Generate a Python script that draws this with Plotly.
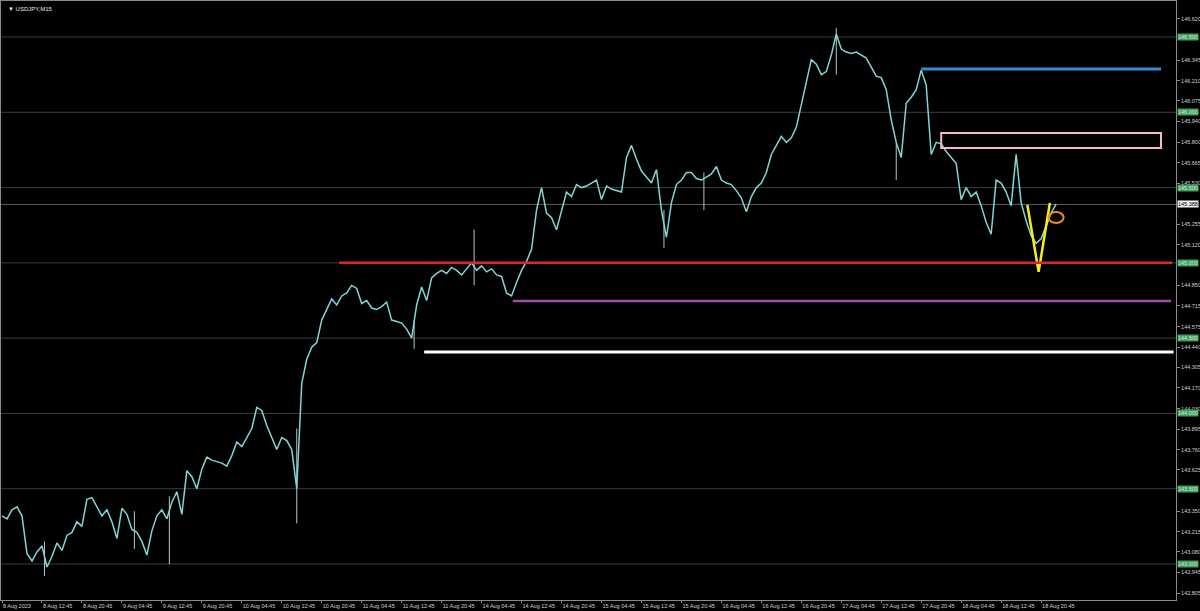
import plotly.graph_objects as go

# ---------------- data ----------------
symbol_title = "USDJPY,M15"
bars_per_point = 4          # one reading per hour (4 x M15 bars)
close_prices = [
    143.32, 143.30, 143.36, 143.38, 143.32, 143.07, 143.02, 143.08, 143.12, 142.98,
    143.05, 143.14, 143.09, 143.19, 143.21, 143.28, 143.25, 143.43, 143.44, 143.38,
    143.32, 143.36, 143.28, 143.17, 143.37, 143.33, 143.23, 143.21, 143.15, 143.06,
    143.22, 143.32, 143.36, 143.30, 143.41, 143.48, 143.33, 143.62, 143.58, 143.50,
    143.63, 143.71, 143.69, 143.68, 143.67, 143.65, 143.72, 143.81, 143.78, 143.84,
    143.90, 144.04, 144.02, 143.92, 143.84, 143.76, 143.84, 143.82, 143.76, 143.50,
    144.20, 144.36, 144.44, 144.47, 144.62, 144.69, 144.76, 144.72, 144.78, 144.80,
    144.85, 144.83, 144.73, 144.75, 144.70, 144.69, 144.71, 144.74, 144.62, 144.61,
    144.60, 144.56, 144.50, 144.72, 144.84, 144.75, 144.90, 144.93, 144.95, 144.93,
    144.97, 144.95, 144.92, 144.96, 145.00, 144.95, 144.98, 144.94, 144.96, 144.92,
    144.91, 144.80, 144.78, 144.87, 144.95, 145.01, 145.09, 145.35, 145.50, 145.33,
    145.30, 145.22, 145.34, 145.47, 145.44, 145.52, 145.50, 145.51, 145.53, 145.55,
    145.42, 145.51, 145.49, 145.48, 145.47, 145.70, 145.78, 145.69, 145.61, 145.57,
    145.53, 145.62, 145.35, 145.17, 145.40, 145.52, 145.55, 145.60, 145.60, 145.56,
    145.55, 145.57, 145.59, 145.64, 145.55, 145.53, 145.52, 145.48, 145.43, 145.34,
    145.44, 145.50, 145.53, 145.60, 145.72, 145.78, 145.84, 145.80, 145.83, 145.90,
    146.05, 146.21, 146.35, 146.32, 146.25, 146.27, 146.38, 146.52, 146.42, 146.40,
    146.39, 146.40, 146.38, 146.36, 146.30, 146.24, 146.23, 146.15, 145.95, 145.80,
    145.70, 146.06, 146.10, 146.15, 146.28, 146.18, 145.72, 145.80, 145.79, 145.74,
    145.70, 145.66, 145.42, 145.50, 145.44, 145.47, 145.38, 145.27, 145.19, 145.55,
    145.53, 145.47, 145.38, 145.72, 145.40, 145.28, 145.18, 145.13, 145.16, 145.25,
    145.33, 145.39,
]

# a few long wicks (bar index, low, high)
wick_bars = [236, 330, 378, 134, 530, 716, 668, 34, 106, 562]
wick_lows = [143.27, 144.43, 144.85, 143.00, 145.10, 145.55, 146.25, 142.92, 143.10, 145.35]
wick_highs = [143.90, 144.62, 145.22, 143.45, 145.35, 145.80, 146.56, 143.15, 143.35, 145.60]

time_labels = [
    "8 Aug 2023", "8 Aug 12:45", "8 Aug 20:45", "9 Aug 04:45", "9 Aug 12:45",
    "9 Aug 20:45", "10 Aug 04:45", "10 Aug 12:45", "10 Aug 20:45", "11 Aug 04:45",
    "11 Aug 12:45", "11 Aug 20:45", "14 Aug 04:45", "14 Aug 12:45", "14 Aug 20:45",
    "15 Aug 04:45", "15 Aug 12:45", "15 Aug 20:45", "16 Aug 04:45", "16 Aug 12:45",
    "16 Aug 20:45", "17 Aug 04:45", "17 Aug 12:45", "17 Aug 20:45", "18 Aug 04:45",
    "18 Aug 12:45", "18 Aug 20:45",
]
bars_per_label = 32

price_ticks = [146.620, 146.345, 146.210, 146.075, 145.940, 145.800, 145.665, 145.530,
               145.255, 145.120, 144.850, 144.715, 144.575, 144.440, 144.305, 144.170,
               144.030, 143.895, 143.760, 143.625, 143.350, 143.215, 143.080, 142.945,
               142.805]
round_levels = [146.5, 146.0, 145.5, 145.0, 144.5, 144.0, 143.5, 143.0]
current_price = 145.388

# drawn objects: (start bar, end bar, price)
red_line = (270, 937, 145.000)
purple_line = (409, 936, 144.747)
white_line = (338, 938, 144.408)
blue_line = (736, 928, 146.287)
pink_box = (752, 928, 145.763, 145.863)
yellow_v_bars = [821, 830, 839]
yellow_v_prices = [145.385, 144.940, 145.398]
orange_circle = (838, 850, 145.265, 145.338)

# ---------------- figure ----------------
x_vals = [i * bars_per_point for i in range(len(close_prices))]

fig = go.Figure()

shapes = []
for lv in round_levels:
    shapes.append(dict(type="line", xref="paper", x0=0, x1=1, yref="y", y0=lv, y1=lv,
                       line=dict(color="#334240", width=1), layer="below"))
shapes.append(dict(type="line", xref="paper", x0=0, x1=1, yref="y",
                   y0=current_price, y1=current_price,
                   line=dict(color="#5e5e5e", width=1), layer="below"))

# wicks
wx, wy = [], []
for b, lo, hi in zip(wick_bars, wick_lows, wick_highs):
    wx += [b, b, None]
    wy += [lo, hi, None]
fig.add_trace(go.Scatter(x=wx, y=wy, mode="lines",
                         line=dict(color="#b8c8c8", width=1), hoverinfo="skip",
                         showlegend=False))

fig.add_trace(go.Scatter(x=x_vals, y=close_prices, mode="lines",
                         line=dict(color="#7fd6d6", width=1.5),
                         showlegend=False, name="USDJPY"))

def hline(spec, color, width):
    x0, x1, p = spec
    return dict(type="line", xref="x", yref="y", x0=x0, x1=x1, y0=p, y1=p,
                line=dict(color=color, width=width))

shapes.append(hline(red_line, "#e0262b", 2.5))
shapes.append(hline(purple_line, "#a24ca6", 2.5))
shapes.append(hline(white_line, "#ffffff", 3))
shapes.append(hline(blue_line, "#2f8fd0", 3))
shapes.append(dict(type="rect", xref="x", yref="y", x0=pink_box[0], x1=pink_box[1],
                   y0=pink_box[2], y1=pink_box[3],
                   line=dict(color="#f5b9cc", width=2)))
shapes.append(dict(type="circle", xref="x", yref="y", x0=orange_circle[0],
                   x1=orange_circle[1], y0=orange_circle[2], y1=orange_circle[3],
                   line=dict(color="#f08a24", width=2)))

fig.add_trace(go.Scatter(x=yellow_v_bars, y=yellow_v_prices, mode="lines",
                         line=dict(color="#f5ee1a", width=2.5), showlegend=False,
                         hoverinfo="skip"))

annotations = [dict(text="▼ " + symbol_title, xref="paper", yref="paper", x=0.004, y=0.995,
                    xanchor="left", yanchor="top", showarrow=False,
                    font=dict(size=6, color="#e8e8e8", family="Liberation Sans"))]
for lv in round_levels:
    annotations.append(dict(text=f"{lv:.3f}", xref="paper", yref="y", x=1, y=lv,
                            xanchor="left", yanchor="middle", xshift=1, showarrow=False,
                            bgcolor="#3f9d5f", borderpad=0,
                            font=dict(size=5.5, color="#d8f0d8", family="Liberation Sans")))
annotations.append(dict(text=f"{current_price:.3f}", xref="paper", yref="y", x=1,
                        y=current_price, xanchor="left", yanchor="middle", xshift=1,
                        showarrow=False, bgcolor="#f0f0f0", borderpad=0,
                        font=dict(size=5.5, color="#000000", family="Liberation Sans")))

top_price = 146.739
bottom_price = 142.761

fig.update_layout(
    width=1200, height=611,
    paper_bgcolor="#000000", plot_bgcolor="#000000",
    margin=dict(l=1, r=24, t=1, b=11),
    shapes=shapes, annotations=annotations,
    xaxis=dict(range=[-0.8, 940], showgrid=False, zeroline=False,
               showline=True, linecolor="#8a8a8a", linewidth=1, mirror=True,
               ticks="outside", ticklen=2, tickcolor="#8a8a8a",
               tickvals=[i * bars_per_label for i in range(len(time_labels))],
               ticktext=time_labels, ticklabelposition="outside right",
               tickangle=0, ticklabelstandoff=0,
               tickfont=dict(size=5.5, color="#d0d0d0", family="Liberation Sans"),
               automargin=False, fixedrange=True),
    yaxis=dict(range=[bottom_price, top_price], side="right", showgrid=False,
               zeroline=False, showline=True, linecolor="#8a8a8a", linewidth=1,
               mirror=True, ticks="outside", ticklen=3, tickcolor="#8a8a8a",
               tickvals=price_ticks, ticktext=[f"{t:.3f}" for t in price_ticks],
               tickfont=dict(size=5.5, color="#d0d0d0", family="Liberation Sans"),
               automargin=False, fixedrange=True),
    showlegend=False,
)

fig.write_html("out.html", config={"displayModeBar": False},
               post_script="document.body.style.margin='0';document.body.style.background='#000';")
